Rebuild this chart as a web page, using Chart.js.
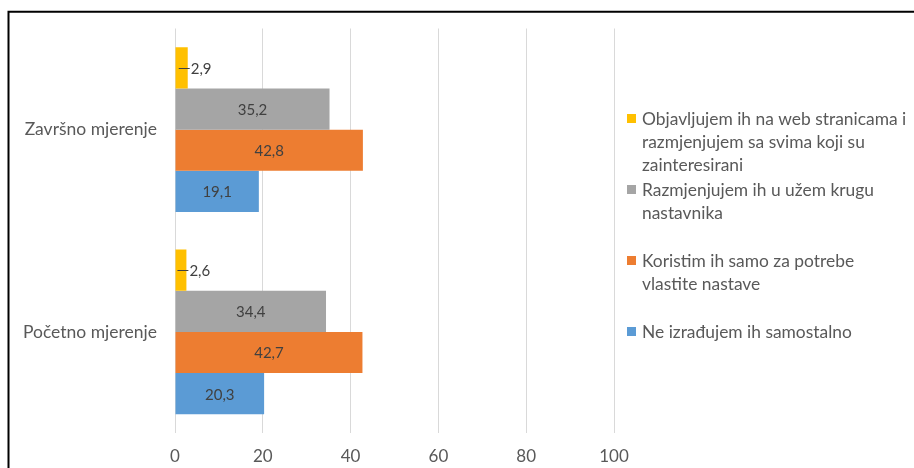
<!DOCTYPE html>
<html>
<head>
<meta charset="utf-8">
<script src="https://cdn.jsdelivr.net/npm/chart.js@4"></script>
<style>
  html, body { margin: 0; padding: 0; background: #fff; }
  canvas { display: block; }
</style>
</head>
<body>
<canvas id="myBarChart" width="914" height="468"></canvas>
<script>
// Kategorije (odozgo prema dolje)
const categories = ['Završno mjerenje', 'Početno mjerenje'];

// Vrijednosti po seriji: [Završno, Početno]
const objavljujem = [2.9, 2.6];
const razmjenjujem = [35.2, 34.4];
const koristim = [42.8, 42.7];
const neIzradujem = [19.1, 20.3];

// Tekst legende, po redovima
const legendLines = [
  ['Objavljujem ih na web stranicama i', 'razmjenjujem sa svima koji su', 'zainteresirani'],
  ['Razmjenjujem ih u užem krugu', 'nastavnika'],
  ['Koristim ih samo za potrebe', 'vlastite nastave'],
  ['Ne izrađujem ih samostalno']
];

const xTicks = [0, 20, 40, 60, 80, 100];

const colors = ['#FFC000', '#A5A5A5', '#ED7D31', '#5B9BD5'];
const FONT = 'Lato, "Open Sans", sans-serif';

const seriesValues = [objavljujem, razmjenjujem, koristim, neIzradujem];

const barChartData = {
  labels: categories,
  datasets: seriesValues.map((vals, i) => ({
    label: legendLines[i].join(' '),
    data: vals,
    backgroundColor: colors[i],
    borderWidth: 0,
    barPercentage: 1,
    categoryPercentage: 0.815,
  }))
};

// Okvir oko grafikona
const frame = {
  id: 'frame',
  afterDraw(chart) {
    const ctx = chart.ctx;
    ctx.save();
    ctx.strokeStyle = '#000';
    ctx.lineWidth = 2;
    ctx.beginPath();
    ctx.moveTo(7.5, 11.7);
    ctx.lineTo(chart.width, 11.7);
    ctx.moveTo(8.5, 10.7);
    ctx.lineTo(8.5, chart.height);
    ctx.stroke();
    ctx.restore();
  }
};

// Oznake vrijednosti na stupcima
const valueLabels = {
  id: 'valueLabels',
  afterDatasetsDraw(chart) {
    const ctx = chart.ctx;
    ctx.save();
    ctx.font = '15px ' + FONT;
    ctx.fillStyle = '#404040';
    ctx.strokeStyle = '#404040';
    ctx.lineWidth = 1;
    ctx.textBaseline = 'middle';
    chart.data.datasets.forEach((ds, di) => {
      const meta = chart.getDatasetMeta(di);
      meta.data.forEach((el, i) => {
        const txt = ds.data[i].toFixed(1).replace('.', ',');
        if (di === 0) {
          ctx.beginPath();
          ctx.moveTo(el.x - 9, Math.round(el.y) + 0.5);
          ctx.lineTo(el.x + 2, Math.round(el.y) + 0.5);
          ctx.stroke();
          ctx.textAlign = 'left';
          ctx.fillText(txt, el.x + 3, el.y + 1);
        } else {
          ctx.textAlign = 'center';
          ctx.fillText(txt, (el.x + el.base) / 2, el.y + 1);
        }
      });
    });
    ctx.restore();
  }
};

// Legenda s desne strane
const sideLegend = {
  id: 'sideLegend',
  afterDraw(chart) {
    const ctx = chart.ctx;
    const area = chart.chartArea;
    const x0 = area.right + 13;
    const top = area.top + 90;
    ctx.save();
    ctx.font = '17.4px ' + FONT;
    ctx.textBaseline = 'middle';
    ctx.textAlign = 'left';
    legendLines.forEach((lines, i) => {
      const y0 = top + i * 71;
      ctx.fillStyle = colors[i];
      ctx.fillRect(x0, y0 - 4.5, 9, 9);
      ctx.fillStyle = '#595959';
      lines.forEach((line, j) => {
        ctx.fillText(line, x0 + 15, y0 + j * 23 + 1);
      });
    });
    ctx.restore();
  }
};

const ctxBar = document.getElementById('myBarChart').getContext('2d');
const myBarChart = new Chart(ctxBar, {
  type: 'bar',
  data: barChartData,
  options: {
    indexAxis: 'y',
    responsive: false,
    animation: false,
    layout: { padding: { top: 25, right: 300, left: 0, bottom: 0 } },
    plugins: {
      legend: { display: false },
      tooltip: { enabled: false },
    },
    scales: {
      x: {
        min: 0,
        max: 100,
        afterBuildTicks: (scale) => { scale.ticks = xTicks.map(v => ({ value: v })); },
        afterFit: (scale) => { scale.height = 35; },
        grid: { color: '#d9d9d9', drawTicks: false },
        border: { display: false },
        ticks: { color: '#595959', font: { family: FONT, size: 17 }, padding: 13 },
      },
      y: {
        afterFit: (scale) => { scale.width = 175; },
        grid: { display: false, drawTicks: false },
        border: { display: false },
        ticks: { color: '#595959', font: { family: FONT, size: 17.5 }, padding: 18 },
      },
    },
  },
  plugins: [frame, valueLabels, sideLegend],
});
</script>
</body>
</html>
